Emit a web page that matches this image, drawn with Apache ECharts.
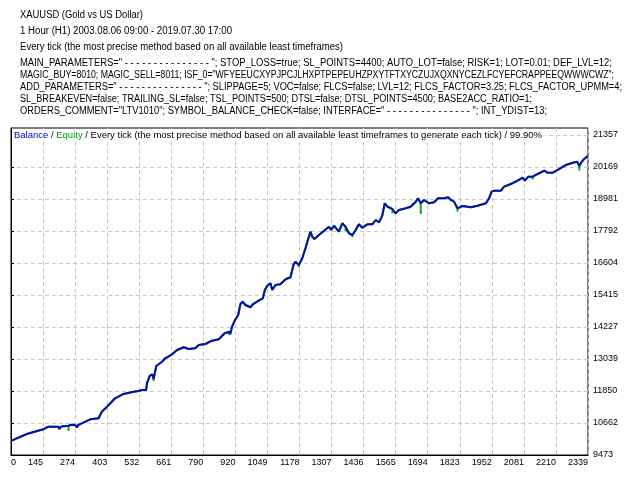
<!DOCTYPE html>
<html><head><meta charset="utf-8">
<script src="https://cdn.jsdelivr.net/npm/echarts@6/dist/echarts.min.js"></script>
<style>html,body{margin:0;padding:0;background:#fff}#c{width:640px;height:480px}</style>
</head><body><div id="c"></div>
<script>
const headerLines = [
  'XAUUSD (Gold vs US Dollar)',
  '1 Hour (H1) 2003.08.06 09:00 - 2019.07.30 17:00',
  'Every tick (the most precise method based on all available least timeframes)',
  'MAIN_PARAMETERS=" - - - - - - - - - - - - - - - "; STOP_LOSS=true; SL_POINTS=4400; AUTO_LOT=false; RISK=1; LOT=0.01; DEF_LVL=12;',
  'MAGIC_BUY=8010; MAGIC_SELL=8011; ISF_0="WFYEEUCXYPJPCJLHXPTPEPEUHZPXYTFTXYCZUJXQXNYCEZLFCYEFCRAPPEEQWWWCWZ";',
  'ADD_PARAMETERS=" - - - - - - - - - - - - - - - "; SLIPPAGE=5; VOC=false; FLCS=false; LVL=12; FLCS_FACTOR=3.25; FLCS_FACTOR_UPMM=4;',
  'SL_BREAKEVEN=false; TRAILING_SL=false; TSL_POINTS=500; DTSL=false; DTSL_POINTS=4500; BASE2ACC_RATIO=1;',
  'ORDERS_COMMENT="LTV1010"; SYMBOL_BALANCE_CHECK=false; INTERFACE=" - - - - - - - - - - - - - - - "; INT_YDIST=13;'
];
const headerY = [15, 31, 47, 63, 75, 87, 99, 111];
const headerRight = [143, 232, 343, 612, 614, 622, 532, 547];
const chartCaption = 'Every tick (the most precise method based on all available least timeframes to generate each tick) / 99.90%';

const xTickLabels = ['0','145','274','403','532','661','790','920','1049','1178','1307','1436','1565','1694','1823','1952','2081','2210','2339'];
const xMax = 2339;
const yTickValues = [9473, 10662, 11850, 13039, 14227, 15415, 16604, 17792, 18981, 20169, 21357];
const yMin = 9473, yMax = 21617;

const trades = [0,64,131,151,192,196,203,233,246,260,
267,272,287,321,355,368,389,422,456,497,
517,524,532,548,551,562,573,578,589,612,
625,653,673,700,720,747,761,788,815,842,
866,885,889,896,910,921,930,939,950,971,
980,1004,1021,1029,1038,1052,1059,1072,1092,1113,
1133,1140,1145,1153,1167,1181,1194,1206,1214,1221,
1230,1248,1268,1289,1298,1309,1329,1343,1356,1370,
1384,1397,1410,1424,1445,1465,1478,1492,1505,1515,
1526,1546,1559,1573,1600,1620,1641,1650,1661,1674,
1695,1715,1731,1756,1772,1783,1796,1810,1815,1830,
1864,1891,1925,1938,1948,1959,1986,1999,2026,2054,
2074,2083,2097,2115,2135,2162,2175,2196,2216,2250,
2277,2295,2304,2311,2322,2338];
const balance = [10000,10253,10427,10524,10524,10439,10532,10561,10598,10587,
10494,10587,10650,10799,10836,11081,11267,11579,11739,11824,
11850,11794,11887,11887,12136,12407,12463,12296,12778,12938,
13064,13213,13373,13473,13410,13436,13558,13596,13718,13770,
13993,14052,13967,14238,14513,14673,15081,15166,15044,14959,
15070,15204,15293,15601,15750,15850,15601,15787,15813,15999,
16073,16103,16530,16652,16530,16790,17161,17532,17766,17581,
17495,17644,17792,17952,17830,17989,17766,18079,17952,17707,
17644,17830,18041,17915,18041,18041,18201,18116,18361,18821,
18695,18609,18450,18572,18635,18695,18881,19007,18821,18944,
18821,18858,19007,19007,19044,18944,18881,18635,18598,18721,
18673,18732,18821,19007,19252,19289,19289,19438,19538,19661,
19772,19661,19809,19809,19909,20032,19958,19958,20058,20244,
20329,20366,20206,20329,20455,20578];
const equityDipAt = [7,14,17,27,41,64,78,80,91,98,107,123,132];
const equityDipValue = [10364,10790,11540,12220,13930,16444,17770,17558,18450,18420,18520,19700,20040];

const FONT = '"Liberation Sans", Arial, sans-serif';
const HEADER_FONT = '10px ' + FONT;

const balanceData = trades.map((t, i) => [t, balance[i]]);
const equityData = [];
trades.forEach((t, i) => {
  equityData.push([t, balance[i]]);
  const k = equityDipAt.indexOf(i);
  if (k >= 0) { equityData.push([t, equityDipValue[k]]); equityData.push([t, balance[i]]); }
});
const xStep = xMax / (xTickLabels.length - 1);
const xTickPos = xTickLabels.map((_, i) => i * xStep);

const ctx = document.createElement('canvas').getContext('2d');
ctx.font = HEADER_FONT;

const chart = echarts.init(document.getElementById('c'), null, {renderer: 'canvas'});
chart.setOption({
  animation: false,
  backgroundColor: '#fff',
  graphic: headerLines.map((s, i) => ({
    type: 'text', x: 20, y: headerY[i], silent: true,
    scaleX: (headerRight[i] - 20) / ctx.measureText(s).width,
    style: {text: s, fill: '#000', font: HEADER_FONT, verticalAlign: 'middle'}
  })),
  title: {
    text: '{b|Balance} / {e|Equity} / ' + chartCaption,
    left: 12, top: 129, padding: [1, 3, 1, 2], backgroundColor: '#fff',
    textStyle: {fontSize: 9.5, fontWeight: 'normal', color: '#000', fontFamily: FONT, lineHeight: 11,
      rich: {
        b: {color: '#0000c0', fontSize: 9.5, fontFamily: FONT, lineHeight: 11},
        e: {color: '#00a000', fontSize: 9.5, fontFamily: FONT, lineHeight: 11}
      }}
  },
  grid: {left: 11, right: 52, top: 128, bottom: 25, show: true, borderColor: '#000', borderWidth: 1, backgroundColor: 'transparent'},
  xAxis: {
    type: 'value', min: 0, max: xMax,
    axisLine: {show: true, lineStyle: {color: '#000', width: 1}},
    axisTick: {show: false, customValues: xTickPos},
    axisLabel: {customValues: xTickPos, color: '#000', fontSize: 9, fontFamily: FONT, margin: 3,
      align: 'right', alignMinLabel: 'left',
      formatter: v => xTickLabels[Math.round(v / xStep)]},
    splitLine: {show: true, lineStyle: {color: '#c8c8c8', type: [4, 3], width: 1}}
  },
  yAxis: {
    type: 'value', position: 'right', min: yMin, max: yMax,
    axisLine: {show: true, lineStyle: {color: '#000', width: 1}},
    axisTick: {show: true, length: 3, customValues: yTickValues, lineStyle: {color: '#000'}},
    axisLabel: {customValues: yTickValues, color: '#000', fontSize: 9, fontFamily: FONT, margin: 5,
      formatter: v => String(v)},
    splitLine: {show: true, lineStyle: {color: '#c8c8c8', type: [4, 3], width: 1, dashOffset: 1}}
  },
  series: [
    {name: 'Equity', type: 'line', data: equityData, showSymbol: false, z: 2,
      lineStyle: {color: '#00b400', width: 2}, itemStyle: {color: '#00b400'}},
    {name: 'Balance', type: 'line', data: balanceData, showSymbol: false, z: 3,
      lineStyle: {color: '#0c0cb4', width: 2}, itemStyle: {color: '#0c0cb4'}}
  ]
});
</script></body></html>
